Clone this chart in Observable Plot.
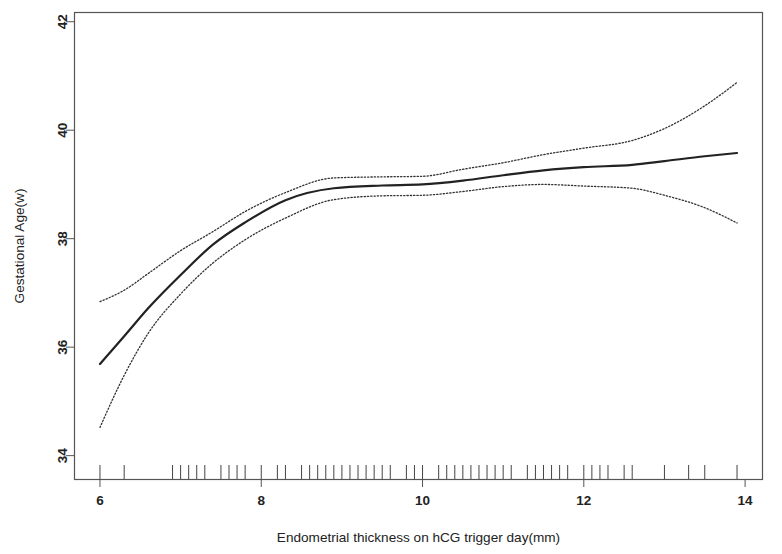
<!DOCTYPE html>
<html>
<head>
<meta charset="utf-8">
<script src="https://cdn.jsdelivr.net/npm/d3@7"></script>
<script src="https://cdn.jsdelivr.net/npm/@observablehq/plot@0.6"></script>
<style>
  html, body { margin: 0; padding: 0; background: #fff; }
  #chart svg { display: block; }
  #chart g[aria-label$="axis label"] text { font-weight: normal; font-size: 13.6px; }
</style>
</head>
<body>
<div id="chart"></div>
<script>
// Endometrial thickness grid (mm)
const thickness = [6.0, 6.3, 6.6, 7.0, 7.4, 7.8, 8.3, 8.9, 9.5, 10.0, 10.5, 11.0, 11.5, 12.0, 12.6, 13.0, 13.5, 13.9];
// Fitted gestational age (weeks)
const fitted = [35.69, 36.20, 36.72, 37.33, 37.89, 38.30, 38.71, 38.93, 38.98, 39.00, 39.07, 39.17, 39.26, 39.32, 39.36, 39.43, 39.52, 39.58];
// Upper 95% bound
const upper = [36.84, 37.05, 37.36, 37.78, 38.13, 38.50, 38.85, 39.12, 39.14, 39.15, 39.28, 39.40, 39.55, 39.67, 39.81, 40.03, 40.45, 40.88];
// Lower 95% bound
const lower = [34.52, 35.48, 36.26, 36.98, 37.55, 37.98, 38.38, 38.72, 38.79, 38.80, 38.87, 38.96, 39.00, 38.97, 38.93, 38.80, 38.57, 38.29];
// Observed thickness values (rug)
const rug = [6.0, 6.3, 6.9, 7.0, 7.1, 7.2, 7.3, 7.5, 7.6, 7.7, 7.8, 8.0, 8.2, 8.3, 8.5, 8.6, 8.7, 8.8, 8.9, 9.0, 9.1, 9.2, 9.3, 9.4, 9.5, 9.6, 9.8, 9.9, 10.0, 10.2, 10.3, 10.4, 10.5, 10.6, 10.7, 10.8, 10.9, 11.0, 11.1, 11.3, 11.4, 11.5, 11.6, 11.7, 11.8, 12.0, 12.1, 12.2, 12.3, 12.5, 12.6, 13.0, 13.3, 13.5, 13.9];
// Tick labels
const xTicks = [6, 8, 10, 12, 14];
const yTicks = [34, 36, 38, 40, 42];

const rows = thickness.map((x, i) => ({x, fit: fitted[i], hi: upper[i], lo: lower[i]}));

const chart = Plot.plot({
  width: 782,
  height: 554,
  marginLeft: 74,
  marginRight: 20,
  marginTop: 12,
  marginBottom: 75,
  style: {fontFamily: "'Liberation Sans', Arial, sans-serif", fontSize: "13.5px", color: "#222", background: "#fff"},
  x: {domain: [5.684, 14.216]},
  y: {domain: [33.56, 42.17]},
  marks: [
    Plot.frame({stroke: "#555", strokeWidth: 1.2}),
    Plot.ruleX(rug, {x: d => d, stroke: "#444", strokeWidth: 1, insetTop: 453}),
    Plot.line(rows, {x: "x", y: "hi", curve: "monotone-x", stroke: "#333", strokeWidth: 1.3, strokeDasharray: "1.3,2"}),
    Plot.line(rows, {x: "x", y: "lo", curve: "monotone-x", stroke: "#333", strokeWidth: 1.3, strokeDasharray: "1.3,2"}),
    Plot.line(rows, {x: "x", y: "fit", curve: "monotone-x", stroke: "#222", strokeWidth: 2.2}),
    Plot.axisX({ticks: xTicks, tickSize: 8, tickPadding: 8, stroke: "#555", fontWeight: "bold", fontSize: 13.5,
      label: "Endometrial thickness on hCG trigger day(mm)", labelAnchor: "center", labelArrow: "none", labelOffset: 62}),
    Plot.axisY({ticks: yTicks, tickSize: 8, tickPadding: 0, tickRotate: -90, stroke: "#555", fontWeight: "bold", fontSize: 13.5,
      label: "Gestational Age(w)", labelAnchor: "center", labelArrow: "none", labelOffset: 60})
  ]
});
document.getElementById("chart").appendChild(chart);
</script>
</body>
</html>
